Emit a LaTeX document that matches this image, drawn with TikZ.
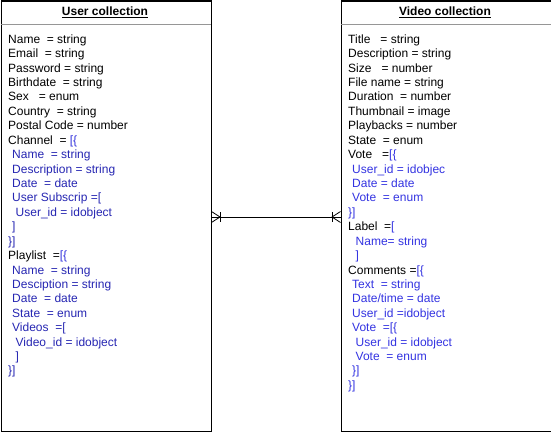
\documentclass[tikz,border=0pt]{standalone}
\usepackage{fontspec}
\setmainfont{Liberation Sans}
\definecolor{lb}{RGB}{38,38,178}
\definecolor{rb}{RGB}{51,51,225}
\definecolor{hb}{RGB}{51,51,220}
\definecolor{sep}{RGB}{150,150,150}
\newcommand{\HB}[1]{\textcolor{hb}{#1}}
\begin{document}
\begin{tikzpicture}[x=1pt,y=-1pt,
  box/.style={draw=black,line width=1pt,minimum width=210pt,minimum height=430pt,inner sep=0pt,anchor=north west},
  hdr/.style={font=\fontsize{12}{14}\selectfont\bfseries,anchor=base},
  fld/.style={font=\fontsize{12}{14}\selectfont,anchor=base west,inner sep=0pt},
  hline/.style={draw=sep,line width=1pt},
  rel/.style={line width=0.8pt,black}]
\useasboundingbox (0,0) rectangle (551,431);
\node[box] (ubox) at (0.5,0.5) {};
\node[box] (vbox) at (340.5,0.5) {};
\draw[hline] ([xshift=0.5pt]ubox.north west) ++(0,24) coordinate (uh1) -- ([xshift=-0.5pt]uh1 -| ubox.east);
\draw[hline] ([xshift=0.5pt]vbox.north west) ++(0,24) coordinate (vh1) -- ([xshift=-0.5pt]vh1 -| vbox.east);
\node[hdr] (uhead) at (105,15.5) {\underline{User collection}};
\node[hdr] (vhead) at (445,15.5) {\underline{Video collection}};
% user fields
\foreach \x/\c/\t [count=\i from 0] in {
 8/black/{Name~ = string},
 8/black/{Email~ = string},
 8/black/{Password = string},
 8/black/{Birthdate~ = string},
 8/black/{Sex~~ = enum},
 8/black/{Country~ = string},
 8/black/{Postal Code = number},
 8/black/{Channel~ = \HB{[\{}},
 12/lb/{Name~ = string},
 12/lb/{Description = string},
 12/lb/{Date~ = date},
 12/lb/{User Subscrip =[},
 15.5/lb/{User\_id = idobject},
 12/lb/{]},
 8/lb/{\}]},
 8/black/{Playlist~ =\HB{[\{}},
 12/lb/{Name~ = string},
 12/lb/{Desciption = string},
 12/lb/{Date~ = date},
 12/lb/{State~ = enum},
 12/lb/{Videos~ =[},
 15.5/lb/{Video\_id = idobject},
 15.5/lb/{]},
 8/lb/{\}]}}
 {\node[fld,text=\c] (u\i) at (\x,43.3+14.42*\i) {\t};}
% video fields
\foreach \x/\c/\t [count=\i from 0] in {
 8/black/{Title~~ = string},
 8/black/{Description = string},
 8/black/{Size~~ = number},
 8/black/{File name = string},
 8/black/{Duration~ = number},
 8/black/{Thumbnail = image},
 8/black/{Playbacks = number},
 8/black/{State~ = enum},
 8/black/{Vote~~ =\textcolor{rb}{[\{}},
 12/rb/{User\_id = idobjec},
 12/rb/{Date = date},
 12/rb/{Vote~ = enum},
 8/rb/{\}]},
 8/black/{Label~ =\textcolor{rb}{[}},
 15.5/rb/{Name= string},
 15.5/rb/{]},
 8/black/{Comments =\textcolor{rb}{[\{}},
 12/rb/{Text~ = string},
 12/rb/{Date/time = date},
 12/rb/{User\_id =idobject},
 12/rb/{Vote~ =[\{},
 15.5/rb/{User\_id = idobject},
 15.5/rb/{Vote~ = enum},
 12/rb/{\}]},
 8/rb/{\}]}}
 {\node[fld,text=\c] (v\i) at (340+\x,43.3+14.42*\i) {\t};}
% relation
\coordinate (ra) at ([yshift=-1pt]ubox.east);
\coordinate (rb2) at ([yshift=-1pt]vbox.west);
\draw[rel] (ra) -- (rb2);
\draw[rel] (ra) ++(0,-5.5) -- ++(8.5,5.5) -- ++(-8.5,5.5);
\draw[rel] (ra) ++(8.5,-5) -- ++(0,10);
\draw[rel] (rb2) ++(0,-5.5) -- ++(-8.5,5.5) -- ++(8.5,5.5);
\draw[rel] (rb2) ++(-8.5,-5) -- ++(0,10);
\end{tikzpicture}
\end{document}
